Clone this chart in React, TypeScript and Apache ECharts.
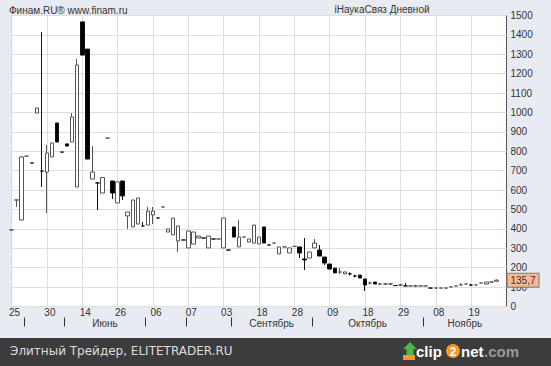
import React, { useEffect, useRef } from 'react';
import * as echarts from 'echarts';

// ---- data ----
const slotCount = 99; // category slots on the time axis (last two empty)
const dateTickIndex = [0, 7, 14, 21, 28, 35, 42, 49, 56, 63, 70, 77, 84, 91];
const dateTickLabels = ['25', '30', '14', '26', '06', '07', '03', '18', '28', '09', '18', '29', '08', '19'];
const monthNames = ['Апрель', 'Май', 'Июнь', 'Июль', 'Август', 'Сентябрь', 'Октябрь', 'Ноябрь'];
const monthBoundaries = [2.5, 10.5, 26.5, 34.5, 43.5, 59.5, 81.5];
const lastPrice = 135.7;

// [open, close, low, high]
const ohlc: number[][] = [
  [395, 395, 392, 398],
  [549, 549, 513, 549],
  [446, 771, 446, 775],
  [775, 775, 775, 775],
  [740, 740, 740, 740],
  [997, 1023, 997, 1023],
  [698, 698, 616, 1415],
  [693, 791, 482, 832],
  [771, 843, 771, 843],
  [946, 848, 848, 946],
  [796, 796, 796, 796],
  [838, 827, 827, 838],
  [848, 977, 848, 997],
  [616, 1245, 616, 1276],
  [1467, 1296, 1296, 1467],
  [1327, 760, 760, 1327],
  [657, 693, 657, 827],
  [637, 637, 497, 637],
  [585, 665, 585, 665],
  [868, 868, 868, 868],
  [647, 585, 554, 647],
  [534, 642, 534, 642],
  [647, 570, 549, 647],
  [467, 487, 400, 487],
  [410, 549, 410, 549],
  [425, 559, 425, 559],
  [415, 415, 415, 436],
  [420, 492, 420, 513],
  [472, 492, 425, 513],
  [456, 456, 456, 456],
  [513, 513, 513, 513],
  [384, 400, 384, 400],
  [369, 456, 369, 456],
  [338, 415, 281, 415],
  [343, 343, 343, 343],
  [302, 389, 302, 389],
  [322, 384, 322, 384],
  [353, 363, 353, 363],
  [353, 353, 353, 353],
  [302, 363, 302, 363],
  [348, 348, 348, 348],
  [348, 348, 348, 348],
  [302, 456, 302, 456],
  [291, 291, 291, 291],
  [410, 358, 358, 410],
  [307, 358, 307, 446],
  [358, 358, 358, 358],
  [332, 348, 332, 348],
  [327, 420, 327, 420],
  [322, 358, 322, 358],
  [410, 327, 327, 410],
  [317, 317, 317, 317],
  [327, 327, 327, 327],
  [271, 307, 271, 307],
  [307, 307, 307, 307],
  [276, 302, 276, 302],
  [310, 310, 310, 310],
  [307, 276, 250, 307],
  [245, 240, 188, 353],
  [250, 281, 250, 281],
  [302, 327, 302, 348],
  [291, 260, 260, 317],
  [255, 224, 214, 255],
  [219, 193, 193, 219],
  [198, 173, 173, 198],
  [178, 178, 168, 198],
  [168, 178, 168, 178],
  [168, 168, 160, 176],
  [157, 157, 150, 164],
  [162, 147, 147, 162],
  [142, 111, 80, 142],
  [121, 121, 114, 128],
  [126, 116, 116, 126],
  [116, 116, 110, 122],
  [116, 116, 110, 122],
  [116, 116, 110, 122],
  [108, 108, 108, 108],
  [111, 111, 105, 117],
  [106, 106, 106, 121],
  [106, 106, 106, 106],
  [106, 106, 100, 112],
  [106, 106, 106, 106],
  [106, 106, 106, 106],
  [95, 95, 95, 95],
  [95, 95, 95, 95],
  [95, 95, 95, 95],
  [95, 95, 95, 95],
  [101, 101, 101, 101],
  [106, 106, 106, 106],
  [111, 111, 111, 121],
  [116, 116, 116, 116],
  [111, 111, 105, 117],
  [111, 111, 111, 111],
  [121, 121, 121, 121],
  [116, 126, 116, 126],
  [126, 126, 126, 126],
  [130, 135.7, 130, 140],
];

const FONT = '"Liberation Sans", Arial, sans-serif';

export default function App() {
  const ref = useRef<HTMLDivElement>(null);
  useEffect(() => {
    if (!ref.current) return;
    const chart = echarts.init(ref.current, undefined, { renderer: 'svg' });
    const categories = Array.from({ length: slotCount }, (_, i) => String(i));
    const labelMap = new Map<number, string>();
    dateTickIndex.forEach((ix, k) => labelMap.set(ix, dateTickLabels[k]));
    const showTick = (i: number) => labelMap.has(i);

    const monthLabelMap = new Map<number, string>();
    const monthCenters: number[] = [];
    monthNames.forEach((name, k) => {
      const start = k === 0 ? 0 : monthBoundaries[k - 1];
      const end = k < monthBoundaries.length ? monthBoundaries[k] : slotCount - 1;
      if (end - start >= 12) {
        const c = (start + end) / 2;
        monthCenters.push(c);
        monthLabelMap.set(c, name);
      }
    });

    chart.setOption({
      animation: false,
      backgroundColor: '#e8ecf2',
      grid: {
        left: 9,
        right: 44.5,
        top: 15.5,
        bottom: 59.5,
        show: true,
        backgroundColor: '#ffffff',
        borderColor: '#555555',
        borderWidth: 1,
      },
      xAxis: [
        {
          type: 'category',
          data: categories,
          boundaryGap: false,
          axisLine: { show: false },
          axisTick: { show: false },
          axisLabel: {
            interval: (i: number) => showTick(i),
            formatter: (_v: string, i: number) => labelMap.get(i) || '',
            color: '#333',
            fontSize: 10,
            lineHeight: 10,
            fontFamily: FONT,
            margin: 1,
            padding: [0, 0, 0, 6],
          },
          splitLine: {
            show: true,
            interval: (i: number) => showTick(i),
            lineStyle: { color: '#dedede', width: 1 },
          },
        },
        {
          type: 'value',
          position: 'bottom',
          offset: 11,
          min: 0,
          max: slotCount - 1,
          axisLine: { show: false },
          axisTick: {
            show: true,
            customValues: monthBoundaries,
            length: 9,
            lineStyle: { color: '#333', width: 1 },
          },
          axisLabel: {
            customValues: monthCenters,
            formatter: (v: number) => monthLabelMap.get(v) || '',
            color: '#333',
            fontSize: 10,
            lineHeight: 10,
            fontFamily: FONT,
            margin: 1,
          },
          splitLine: { show: false },
        },
      ],
      yAxis: {
        type: 'value',
        position: 'right',
        min: 0,
        max: 1500,
        interval: 100,
        axisLine: { show: false },
        axisTick: { show: false },
        axisLabel: {
          color: '#333',
          fontSize: 10,
          fontFamily: FONT,
          margin: 4,
          formatter: (v: number) => String(v),
        },
        splitLine: { lineStyle: { color: '#dedede', width: 1 } },
      },
      series: [
        {
          type: 'candlestick',
          data: ohlc,
          barWidth: 4,
          itemStyle: {
            color: '#ffffff',
            color0: '#000000',
            borderColor: '#555555',
            borderColor0: '#111111',
            borderWidth: 1,
          },
          markLine: {
            silent: true,
            symbol: ['none', 'none'],
            z: 10,
            lineStyle: { color: 'rgba(0,0,0,0)', width: 1, type: 'solid' },
            label: {
              show: true,
              position: 'end',
              distance: 1,
              formatter: String(lastPrice).replace('.', ','),
              backgroundColor: '#f8b992',
              borderColor: '#777777',
              borderWidth: 1,
              padding: [2, 3, 1, 3],
              color: '#333333',
              opacity: 1,
              fontSize: 10,
              fontFamily: FONT,
            },
            data: [{ yAxis: lastPrice }],
          },
        },
      ],
      graphic: [
        {
          type: 'text',
          x: 9,
          y: 10,
          style: { text: 'Финам.RU® www.finam.ru', fill: '#333', font: '10px ' + FONT, verticalAlign: 'middle' },
        },
        {
          type: 'text',
          x: 382,
          y: 9,
          style: { text: 'iНаукаСвяз Дневной', fill: '#333', font: '10px ' + FONT, align: 'center', verticalAlign: 'middle' },
        },
        {
          type: 'rect',
          shape: { x: 0, y: 338, width: 551, height: 28 },
          style: { fill: '#3c3c3c' },
        },
        {
          type: 'text',
          x: 10,
          y: 351,
          style: { text: 'Элитный Трейдер, ELITETRADER.RU', fill: '#dcdcdc', font: '12px "DejaVu Sans", sans-serif', verticalAlign: 'middle' },
        },
        {
          type: 'polygon',
          shape: { points: [[410, 342], [417, 349], [413.5, 349], [413.5, 355], [406.5, 355], [406.5, 349], [403, 349]] },
          style: { fill: '#4cb848' },
        },
        {
          type: 'rect',
          shape: { x: 403, y: 355, width: 12, height: 5 },
          style: { fill: '#f39a1e' },
        },
        {
          type: 'text',
          x: 416,
          y: 351,
          style: { text: 'clip', fill: '#ffffff', font: 'bold 15px ' + FONT, verticalAlign: 'middle' },
        },
        {
          type: 'circle',
          shape: { cx: 453, cy: 351, r: 7 },
          style: { fill: '#f39a1e' },
        },
        {
          type: 'text',
          x: 453,
          y: 351.5,
          style: { text: '2', fill: '#ffffff', font: 'bold 12px ' + FONT, align: 'center', verticalAlign: 'middle' },
        },
        {
          type: 'text',
          x: 461,
          y: 351,
          style: { text: 'net', fill: '#ffffff', font: 'bold 15px ' + FONT, verticalAlign: 'middle' },
        },
        {
          type: 'text',
          x: 484,
          y: 351,
          style: { text: '.com', fill: '#9a9a9a', font: 'bold 15px ' + FONT, verticalAlign: 'middle' },
        },
      ],
    });
    return () => chart.dispose();
  }, []);
  return (
    <div
      ref={ref}
      style={{ position: 'fixed', left: 0, top: 0, width: 551, height: 366 }}
    />
  );
}
